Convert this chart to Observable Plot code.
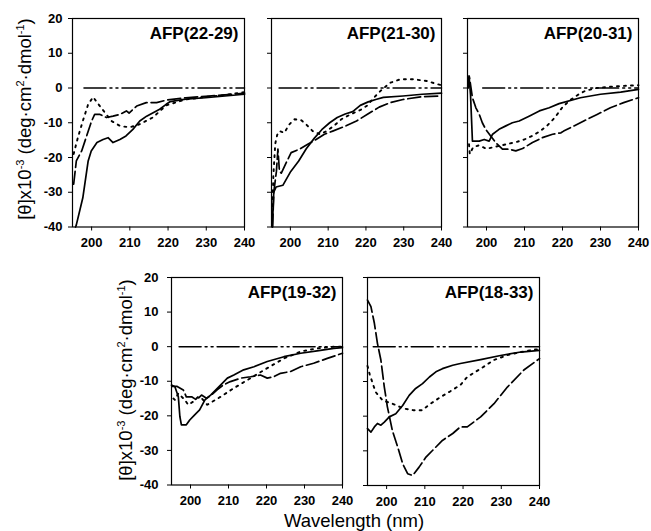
<!DOCTYPE html>
<html>
<head>
<meta charset="utf-8">
<script src="https://cdn.jsdelivr.net/npm/d3@7"></script>
<script src="https://cdn.jsdelivr.net/npm/@observablehq/plot@0.6"></script>
<style>
  body { margin: 0; background: #fff; }
  #wrap { position: relative; width: 651px; height: 531px; overflow: hidden; background: #fff;
          font-family: Arial, "Liberation Sans", Helvetica, sans-serif; color: #000; }
  .panel { position: absolute; }
  .ylab { position: absolute; transform: translate(-50%, -50%) rotate(-90deg); white-space: nowrap;
          font-size: 18.5px; line-height: 18px; }
  .ylab sup { font-size: 11px; vertical-align: 7px; line-height: 0; }
  .xlab { position: absolute; transform: translateX(-50%); white-space: nowrap; font-size: 18.5px; line-height: 18px; }
</style>
</head>
<body>
<div id="wrap"></div>
<script>
// ---------- data (wavelength nm, [θ] x10^-3) ----------
const titles = ["AFP(22-29)", "AFP(21-30)", "AFP(20-31)", "AFP(19-32)", "AFP(18-33)"];
const xTicks = [200, 210, 220, 230, 240];
const yTicks = [-40, -30, -20, -10, 0, 10, 20];
const zeroStart = [198, 197, 199, 197, 196.5];

const p1Solid = [[195.8,-40],[196.0,-39.4],[197.7,-31.6],[199.1,-21],[199.9,-18.1],[201.4,-15.7],[203.0,-14.8],[204.3,-14.3],[205.6,-15.7],[207.4,-14.8],[209.0,-13.8],[210.8,-11.9],[212.6,-9.5],[214.4,-8.1],[216.1,-7.1],[217.8,-6.1],[219.5,-4.7],[220.6,-3.9],[224.6,-3.2],[229.8,-2.8],[234.9,-2.3],[240,-1.8]];
const p1Dashed = [[195.3,-27.7],[196.0,-21],[197.4,-18.1],[200.0,-9.5],[200.8,-7.6],[202.2,-7.6],[203.9,-8.5],[205.6,-8.1],[207.4,-7.6],[209.1,-6.6],[209.8,-7.2],[211.8,-5.2],[214.3,-4.2],[217.0,-4.2],[219.5,-3.5],[224.6,-2.8],[229.8,-2.4],[234.9,-2.0],[240,-1.5]];
const p1Dotted = [[195.3,-19],[196.4,-14.3],[197.7,-9.5],[199.1,-4.7],[200.4,-2.6],[201.8,-4.7],[203.5,-7.1],[205.2,-9.5],[207.4,-10.9],[209.1,-11.2],[210.3,-11.2],[212.4,-10.5],[216.0,-8.5],[217.5,-7],[219.5,-5],[224.6,-3.3],[229.8,-2.6],[234.9,-2.0],[240,-1.2]];

const p2Solid = [[195.2,-40],[195.6,-30],[196.2,-28.5],[198.0,-28],[200.1,-24],[202.2,-21],[204.2,-17.5],[206.3,-14.5],[208.3,-12],[210.4,-10],[212.4,-8.5],[214.5,-7.5],[216.5,-6.8],[218.5,-5],[220.6,-4],[222.6,-3.3],[224.6,-2.7],[229.8,-2.3],[234.9,-1.8],[240,-1.5]];
const p2Dashed = [[195.3,-40],[195.6,-30],[196.3,-24],[196.7,-17.6],[197.1,-24],[197.6,-24.5],[198.9,-21.5],[200.2,-18.6],[202.4,-17.6],[204.6,-16.2],[206.8,-14.8],[209.0,-13.3],[211.2,-12.4],[214.5,-11],[217.5,-9.5],[220.5,-7.5],[223.5,-5.5],[226.5,-4.2],[229.8,-3.3],[234.9,-2.5],[240,-2.3]];
const p2Dotted = [[195.2,-36],[195.5,-25],[196.0,-16],[196.5,-13.5],[197.1,-12.4],[198.4,-12.9],[199.7,-10.5],[201.1,-9],[202.9,-9.3],[204.2,-10.5],[205.9,-12.4],[207.8,-13.3],[209.4,-12.5],[211.4,-11],[213.5,-9],[215.9,-7.6],[218.6,-6.3],[220.4,-5],[222.1,-2.8],[223.8,-0.9],[226.4,1.5],[229.1,2.5],[232.7,2.5],[236.2,2],[238.9,1.1],[240,0.8]];

const p3Solid = [[195.1,0],[195.4,3.5],[195.8,-2],[196.3,-15.3],[196.8,-15.3],[198.1,-15.3],[199.4,-14.8],[200.7,-15.3],[201.6,-13.3],[203.3,-11.9],[205.1,-10.9],[206.8,-10],[208.6,-9.5],[211.2,-8.1],[213.9,-6.6],[216.5,-5.7],[219.1,-4.5],[224.7,-2.8],[230,-1.8],[235.3,-1.2],[240,-0.4]];
const p3Dashed = [[195.2,0],[195.5,3.2],[196.3,-2.8],[197.2,-5.7],[198.1,-7.6],[198.9,-10],[199.8,-11.9],[201.1,-13.8],[202.4,-15.7],[204.2,-17.6],[206,-17.6],[207.7,-18.1],[209.5,-17.4],[212.1,-15.7],[214.7,-14.3],[217.4,-13.3],[219.6,-12.9],[220.3,-12.4],[225.6,-9.5],[229.1,-7.6],[232.6,-5.7],[236.1,-4.2],[240,-2.8]];
const p3Dotted = [[195.4,-16.2],[195.6,-19],[196.5,-17],[198,-16.5],[200,-17.5],[202,-17],[204,-16.5],[206,-16],[208,-15.5],[210,-14.8],[212,-13.8],[214,-12.5],[216,-10.8],[218,-8.5],[220,-5.5],[222,-3.5],[224,-2],[226,-0.8],[229,0],[234,0.5],[240,0.8]];

const p4Solid = [[195,-11.1],[195.9,-11.6],[196.8,-14.5],[197.2,-20.2],[197.6,-22.6],[198.9,-22.6],[199.8,-21.2],[201.1,-19.7],[202.4,-18.3],[203.8,-15.4],[205.3,-14],[207.9,-11.1],[209.7,-9.1],[211.4,-8.2],[214,-6.7],[216.7,-5.8],[220.2,-4.3],[224.6,-2.9],[229,-1.9],[233.3,-1.2],[237.7,-0.5],[240,-0.3]];
const p4Dashed = [[195.1,-11.5],[196.5,-11.5],[198.1,-12.5],[198.9,-14.5],[200.3,-14.5],[201.6,-15.4],[202.9,-14],[204.2,-14.9],[205.5,-14],[207,-12.5],[208.6,-11.1],[210.5,-10.1],[213.2,-9.1],[215.8,-8.7],[218.4,-8.2],[220.2,-9.1],[221.9,-8.7],[223.7,-7.7],[226.3,-7.2],[229,-5.8],[232.4,-4.8],[236,-3.4],[240,-1.9]];
const p4Dotted = [[195.5,-15],[195.9,-15.4],[196.8,-13.5],[198.5,-15.4],[199.4,-16.8],[200.7,-15.9],[202,-14.5],[203,-15],[204.4,-16.8],[207.9,-14.5],[211.4,-12],[215.8,-9.1],[220.2,-6.2],[224.6,-3.4],[229,-1.4],[233.3,-0.5],[237.7,0],[240,0]];

const p5Solid = [[195,-23.6],[195.9,-24.6],[196.8,-23.1],[197.6,-22.1],[198.5,-22.6],[199.4,-21.7],[200.7,-20.2],[202.4,-19.3],[204.2,-16.9],[205.9,-14],[207.6,-12],[209.4,-10.6],[211.2,-8.7],[212.9,-7.2],[214.6,-6.3],[217.3,-5.3],[219.3,-4.8],[224.6,-3.7],[229.8,-2.5],[235.1,-1.5],[240,-1]];
const p5Dashed = [[195,13.5],[195.9,11.6],[196.8,6.8],[197.6,1],[198.5,-3.8],[199.4,-11.6],[200.2,-17.3],[201.5,-24.1],[202.9,-28.9],[204.2,-33.7],[205.5,-36.6],[206.8,-37.1],[208.5,-34.7],[210.3,-31.8],[212,-29.9],[214.6,-27],[217.3,-25],[219.3,-23.1],[221.1,-23.1],[224.6,-20.2],[228.1,-16.4],[231.6,-11.6],[235.9,-6.7],[240,-3.4]];
const p5Dotted = [[195,-5.5],[195.6,-8],[197.1,-13],[199,-15.5],[201.5,-16.4],[204.5,-17.8],[207.1,-18.3],[209.3,-18.3],[211.5,-16.4],[214.1,-14.5],[216.7,-12.8],[219.3,-11],[221.1,-8.7],[224.6,-6.3],[228.1,-3.8],[231.6,-2.4],[235.1,-1.5],[238.5,-0.8],[240,-0.7]];

// ---------- layout ----------
const panels = [
  {L: 72,  T: 17.5, W: 172, H: 208.5, showY: true,  padY: 6,  solid: p1Solid, dashed: p1Dashed, dotted: p1Dotted},
  {L: 271, T: 17.5, W: 170, H: 208.5, showY: false, padY: 6,  solid: p2Solid, dashed: p2Dashed, dotted: p2Dotted},
  {L: 467, T: 17.5, W: 171, H: 208.5, showY: false, padY: 6,  solid: p3Solid, dashed: p3Dashed, dotted: p3Dotted},
  {L: 171, T: 277,  W: 171, H: 207.5, showY: true,  padY: 9,  solid: p4Solid, dashed: p4Dashed, dotted: p4Dotted},
  {L: 367, T: 276.5,W: 172, H: 208,   showY: false, padY: 6,  solid: p5Solid, dashed: p5Dashed, dotted: p5Dotted}
];

const wrap = document.getElementById("wrap");
const ml = 42, mr = 10, mt = 5, mb = 32;

panels.forEach((p, i) => {
  const xy = {x: d => d[0], y: d => d[1], stroke: "black"};
  const chart = Plot.plot({
    width: p.W + ml + mr,
    height: p.H + mt + mb,
    marginLeft: ml, marginRight: mr, marginTop: mt, marginBottom: mb,
    style: {fontFamily: "Arial, 'Liberation Sans', sans-serif", fontSize: "13px", fontWeight: "bold",
            background: "transparent", color: "black", overflow: "visible", maxWidth: "none"},
    x: {domain: [195, 240]},
    y: {domain: [-40, 20]},
    marks: [
      Plot.axisX(xTicks, {tickSize: 4, tickPadding: 7, label: null, tickFormat: d => String(d)}),
      Plot.axisY(yTicks, {tickSize: 4, tickPadding: p.padY, label: null,
                          tickFormat: p.showY ? (d => String(d)) : (() => "")}),
      Plot.line([[zeroStart[i], 0], [240, 0]], {...xy, strokeWidth: 1.5, strokeDasharray: "22,4,2,4,2,4"}),
      Plot.line(p.dotted, {...xy, strokeWidth: 1.9, strokeDasharray: "2,5"}),
      Plot.line(p.dashed, {...xy, strokeWidth: 1.7, strokeDasharray: "13,4"}),
      Plot.line(p.solid, {...xy, strokeWidth: 1.7}),
      Plot.frame({stroke: "black", strokeWidth: 1.2}),
      Plot.text([titles[i]], {text: d => d, frameAnchor: "top-right", textAnchor: "end", lineAnchor: "top",
                              dx: -6, dy: 8, fontSize: 17, fontWeight: "bold", fill: "black"})
    ]
  });
  chart.classList.add("panel");
  chart.style.left = (p.L - ml) + "px";
  chart.style.top = (p.T - mt) + "px";
  wrap.appendChild(chart);
});

// axis titles
const yLabelHTML = "[θ]x10<sup>-3</sup> (deg·cm<sup>2</sup>·dmol<sup>-1</sup>)";
const yLabelPos = [[25, 119], [126, 380]];
yLabelPos.forEach(([x, y]) => {
  const d = document.createElement("div");
  d.className = "ylab";
  d.style.left = x + "px";
  d.style.top = y + "px";
  d.innerHTML = yLabelHTML;
  wrap.appendChild(d);
});
const xl = document.createElement("div");
xl.className = "xlab";
xl.style.left = "354px";
xl.style.top = "512px";
xl.textContent = "Wavelength (nm)";
wrap.appendChild(xl);
</script>
</body>
</html>
